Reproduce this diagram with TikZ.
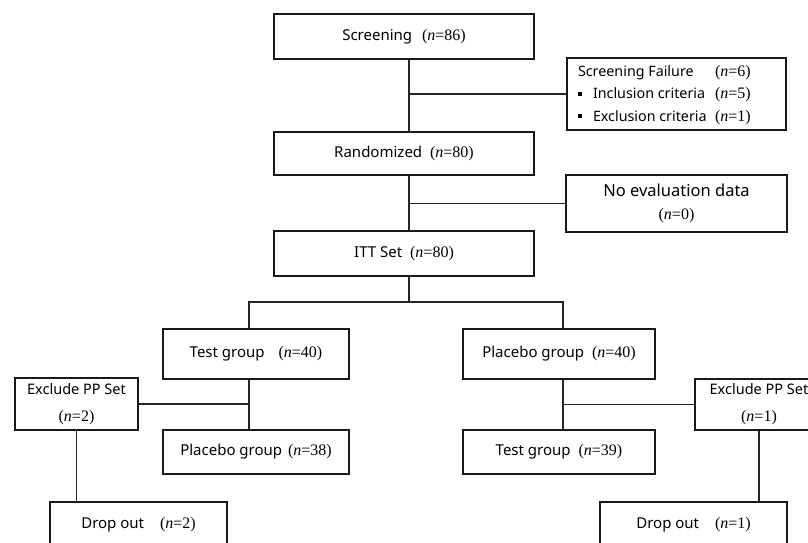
\documentclass[tikz,border=0pt]{standalone}
\usepackage{fontspec}
\setmainfont{Noto Sans}
\newfontfamily\seriffam{Liberation Serif}
\newcommand\nn[1]{{\seriffam\fontsize{16}{18}\selectfont(\textit{n}=#1)}}
\newcommand\sqbul{\rule[3pt]{4pt}{4pt}\hspace{11pt}}
\begin{document}
\begin{tikzpicture}[x=1pt,y=-1pt,
  box/.style={draw=black!90, line width=1.2pt, inner sep=0pt, align=center,
    font=\fontsize{15}{18}\selectfont},
  conn/.style={draw=black!85, line width=1.2pt}]
\useasboundingbox (0,0) rectangle (808,542);
\clip (0,0) rectangle (808,542);
\fill[white] (0,0) rectangle (808,542);

\coordinate (trunk) at (409,0);
\coordinate (sL) at (249,302);
\coordinate (sR) at (563,302);

\node[box, minimum width=260pt, minimum height=45pt] (scr) at (404,36.5) {Screening\hspace{6pt} \nn{86}};
\node[box, minimum width=260pt, minimum height=43pt] (rand) at (404,153.5) {Randomized\hspace{4pt} \nn{80}};
\node[box, minimum width=260pt, minimum height=45pt] (itt) at (404,253.5) {ITT Set\hspace{4pt} \nn{80}};

\node[box, minimum width=219pt, minimum height=72pt, font=\fontsize{14.3}{22.5}\selectfont] (sf) at (676.5,94)
  {\begin{tabular}{@{}l@{}l@{}}
   \makebox[137pt][l]{Screening Failure} & \makebox[60pt][l]{\nn{6}}\\
   \makebox[137pt][l]{\sqbul Inclusion criteria} & \makebox[60pt][l]{\nn{5}}\\
   \makebox[137pt][l]{\sqbul Exclusion criteria} & \makebox[60pt][l]{\nn{1}}
   \end{tabular}};

\node[box, minimum width=221pt, minimum height=57pt, font=\fontsize{16.5}{23}\selectfont] (ne) at (676.5,203.5)
  {No evaluation data\\ \nn{0}};

\node[box, minimum width=186pt, minimum height=50pt] (tg) at (256,354) {Test group\hspace{10pt} \nn{40}};
\node[box, minimum width=192pt, minimum height=50pt] (pg) at (559,354) {Placebo group\hspace{4pt} \nn{40}};
\node[box, minimum width=186pt, minimum height=44pt] (pg38) at (256,452) {Placebo group\hspace{2pt} \nn{38}};
\node[box, minimum width=192pt, minimum height=44pt] (tg39) at (559,452) {Test group\hspace{4pt} \nn{39}};

\node[box, minimum width=123pt, minimum height=52pt, font=\fontsize{14.5}{27}\selectfont] (exL) at (76.5,404) {Exclude PP Set\\ \nn{2}};
\node[box, minimum width=128pt, minimum height=51pt, font=\fontsize{14.5}{27}\selectfont] (exR) at (759,404.5) {Exclude PP Set\\ \nn{1}};

\node[box, minimum width=177pt, minimum height=46pt] (doL) at (138.5,525) {Drop out\hspace{12pt} \nn{2}};
\node[box, minimum width=187pt, minimum height=46pt] (doR) at (693.5,525) {Drop out\hspace{12pt} \nn{1}};

% connectors
\draw[conn] (scr.south -| trunk) -- (rand.north -| trunk);
\draw[conn] (trunk |- sf.west) -- (sf.west);
\draw[conn] (rand.south -| trunk) -- (itt.north -| trunk);
\draw[conn] (trunk |- ne.west) -- (ne.west);
\draw[conn] (itt.south -| trunk) -- (trunk |- sL);
\draw[conn] (tg.north -| sL) -- (sL) -- (sR) -- (pg.north -| sR);
\draw[conn] (tg.south -| sL) -- (pg38.north -| sL);
\draw[conn] (exL.east) -- (exL.east -| sL);
\draw[conn] (pg.south -| sR) -- (tg39.north -| sR);
\draw[conn] (exR.west -| sR) -- (exR.west);
\draw[conn] (exL.south) -- (doL.north -| exL.south);
\draw[conn] (exR.south) -- (doR.north -| exR.south);
\end{tikzpicture}
\end{document}
